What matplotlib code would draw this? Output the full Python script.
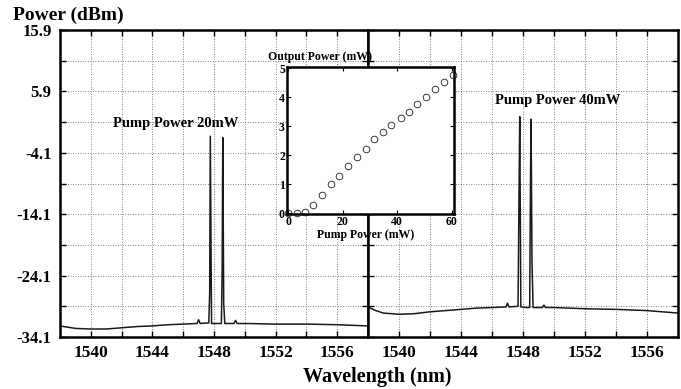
import matplotlib
matplotlib.use("Agg")
import matplotlib.pyplot as plt

plt.rcParams['font.family'] = ['Liberation Serif', 'DejaVu Serif']
plt.rcParams['font.weight'] = 'bold'
plt.rcParams['axes.unicode_minus'] = False

# spectrum at 20 mW pump (wavelength nm, power dBm)
wl_20 = [1538.0, 1539.0, 1540.0, 1541.0, 1542.0, 1543.0, 1544.0, 1545.0, 1546.0,
         1546.9, 1547.0, 1547.1, 1547.66, 1547.72, 1547.76, 1547.84, 1548.2,
         1548.48, 1548.53, 1548.57, 1548.63, 1548.7, 1549.3, 1549.4, 1549.5,
         1550.0, 1552.0, 1554.0, 1556.0, 1557.0, 1558.0]
pw_20 = [-32.3, -32.7, -32.8, -32.8, -32.6, -32.4, -32.3, -32.1, -32.0,
         -31.9, -31.3, -31.9, -31.8, -26.9, -1.4, -31.9, -31.9,
         -31.9, -23.2, -1.6, -28.6, -31.9, -31.9, -31.4, -31.9,
         -31.9, -32.0, -32.0, -32.1, -32.2, -32.3]

# spectrum at 40 mW pump
wl_40 = [1538.0, 1538.5, 1539.0, 1540.0, 1541.0, 1542.0, 1543.0, 1544.0, 1545.0,
         1546.0, 1546.9, 1547.0, 1547.1, 1547.68, 1547.74, 1547.79, 1547.86,
         1548.2, 1548.43, 1548.48, 1548.52, 1548.58, 1548.65, 1549.25, 1549.35,
         1549.45, 1550.0, 1552.0, 1554.0, 1556.0, 1557.0, 1558.0]
pw_40 = [-29.2, -29.8, -30.2, -30.4, -30.3, -30.0, -29.8, -29.6, -29.4,
         -29.3, -29.2, -28.6, -29.2, -29.1, -11.3, 1.8, -29.2,
         -29.3, -29.3, -9.6, 1.4, -22.0, -29.3, -29.3, -28.9,
         -29.3, -29.3, -29.5, -29.6, -29.8, -30.0, -30.2]

# output power vs pump power
pump_mw = [0, 3.1, 6.2, 9.2, 12.3, 15.6, 18.8, 22.1, 25.4, 28.5,
           31.7, 34.8, 37.9, 41.4, 44.4, 47.5, 50.7, 54.0, 57.3, 60.7]
out_mw = [0.0, 0.0, 0.04, 0.29, 0.64, 1.01, 1.29, 1.64, 1.94, 2.23,
          2.56, 2.82, 3.05, 3.28, 3.51, 3.77, 4.01, 4.28, 4.54, 4.78]

y_ticks = [15.9, 5.9, -4.1, -14.1, -24.1, -34.1]
y_grid = [15.9 - 5 * i for i in range(11)]
x_ticks = [1540, 1544, 1548, 1552, 1556]
x_grid = list(range(1540, 1558, 2))

fig = plt.figure(figsize=(6.81, 3.89), dpi=100)
ax1 = fig.add_axes([0.0881, 0.1337, 0.4523, 0.789])
ax2 = fig.add_axes([0.5404, 0.1337, 0.4552, 0.789])

for ax, wl, pw in [(ax1, wl_20, pw_20), (ax2, wl_40, pw_40)]:
    ax.plot(wl, pw, color='0.1', lw=1.1)
    ax.set_xlim(1538, 1558)
    ax.set_ylim(-34.1, 15.9)
    ax.set_xticks(x_grid, minor=True)
    ax.set_xticks(x_ticks)
    ax.set_yticks(y_grid, minor=True)
    ax.set_yticks(y_ticks)
    ax.grid(True, which='both', linestyle=(0, (1, 2)), color='0.35', lw=0.6)
    ax.tick_params(which='both', direction='in', length=4, width=1,
                   top=True, right=True, labelsize=12.5, pad=6)
    for sp in ax.spines.values():
        sp.set_linewidth(1.8)

ax2.tick_params(labelleft=False)
ax1.tick_params(axis='y', labelsize=12)

ax1.text(1545.5, 0.7, 'Pump Power 20mW', ha='center', va='center', fontsize=10.5)
ax2.text(1550.25, 4.5, 'Pump Power 40mW', ha='center', va='center', fontsize=10.5)

fig.text(13 / 681, 1 - 15 / 389, 'Power (dBm)', ha='left', va='center', fontsize=14)
fig.text(377 / 681, 1 - 377 / 389, 'Wavelength (nm)', ha='center', va='center',
         fontsize=14.5)

# inset: output power curve
axin = fig.add_axes([0.4214, 0.4499, 0.2452, 0.3779])
axin.set_facecolor('white')
axin.plot(pump_mw, out_mw, 'o', mfc='none', mec='0.1', ms=4.8, mew=0.6, clip_on=False)
axin.set_xlim(-0.4, 60.9)
axin.set_ylim(-0.02, 5.05)
axin.set_xticks([0, 20, 40, 60])
axin.set_yticks([0, 1, 2, 3, 4, 5])
axin.tick_params(direction='in', length=3, top=True, right=True,
                 labelsize=8.5, pad=1.5)
for sp in axin.spines.values():
    sp.set_linewidth(1.8)
axin.text(0.2, 1.07, 'Output Power (mW)', transform=axin.transAxes,
          ha='center', va='center', fontsize=8.5)
axin.text(0.47, -0.145, 'Pump Power (mW)', transform=axin.transAxes,
          ha='center', va='center', fontsize=8.5)

fig.savefig('out.png', dpi=100)
